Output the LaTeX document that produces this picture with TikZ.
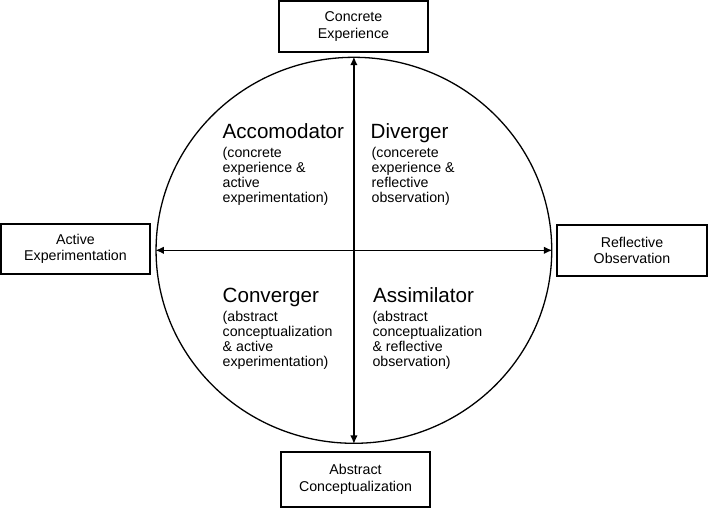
\documentclass[tikz,border=0pt]{standalone}
\usepackage{fontspec}
\setmainfont{Liberation Sans}
\usetikzlibrary{shapes.geometric,arrows.meta}
\begin{document}
\begin{tikzpicture}[x=1pt,y=-1pt,
  box/.style={draw,line width=1.3pt,inner sep=0pt,align=center,
    font=\fontsize{14.2}{16.5}\selectfont},
  ttl/.style={anchor=base west,inner sep=0pt,font=\fontsize{20.6}{22}\selectfont},
  body/.style={anchor=north west,inner sep=0pt,align=left,
    font=\fontsize{14.2}{15}\selectfont},
  axis/.style={line width=1.5pt,{Latex[length=8.5pt,width=7.5pt]}-{Latex[length=8.5pt,width=7.5pt]}}]
\useasboundingbox (0,0) rectangle (709,509);
\node[ellipse,draw,line width=1.3pt,minimum width=395.7pt,minimum height=386pt,inner sep=0pt] (circ) at (353.9,250.3) {};
\draw[axis] (circ.south) -- (circ.north);
\draw[axis] (circ.west) -- (circ.east);
\node[box,minimum width=149pt,minimum height=51pt] (ce) at (353.5,26.5) {Concrete\\Experience};
\node[box,minimum width=149pt,minimum height=50pt] (ae) at (75.5,249) {Active\\Experimentation};
\node[box,minimum width=150pt,minimum height=51pt] (ro) at (632,250.5) {Reflective\\Observation};
\node[box,minimum width=149pt,minimum height=55pt] (ac) at (355.5,479.5) {Abstract\\Conceptualization};
\node[ttl] (acc) at (222.5,138.3) {Accomodator};
\node[body] (accb) at (222.5,147.3) {(concrete\\experience \&\\active\\experimentation)};
\node[ttl] (div) at (370.5,138.3) {Diverger};
\node[body] (divb) at (371.5,147.3) {(concerete\\experience \&\\reflective\\observation)};
\node[ttl] (con) at (222.5,302.7) {Converger};
\node[body] (conb) at (222.5,311.3) {(abstract\\conceptualization\\\& active\\experimentation)};
\node[ttl] (ass) at (373,302.7) {Assimilator};
\node[body] (assb) at (372.3,311.3) {(abstract\\conceptualization\\\& reflective\\observation)};
\end{tikzpicture}
\end{document}
